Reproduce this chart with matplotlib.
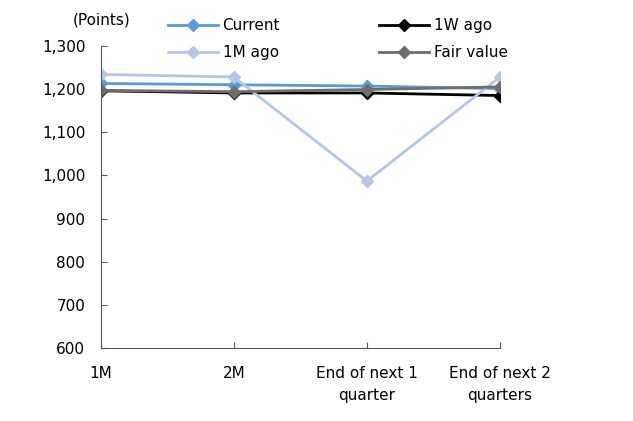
import matplotlib.pyplot as plt

categories = ['1M', '2M', 'End of next 1\nquarter', 'End of next 2\nquarters']
current = [1213, 1210, 1207, 1201]
week_ago = [1196, 1191, 1191, 1185]
month_ago = [1234, 1228, 987, 1228]
fair_value = [1197, 1194, 1199, 1205]

plt.rcParams['font.family'] = 'DejaVu Sans'

fig = plt.figure(figsize=(6.33, 4.21), dpi=100)
ax = fig.add_axes([0.159, 0.173, 0.631, 0.718])

x = range(len(categories))
l1, = ax.plot(x, current, color='#5b9bd5', marker='D', markersize=6, lw=2, label='Current')
l2, = ax.plot(x, week_ago, color='#000000', marker='D', markersize=6, lw=2, label='1W ago')
l3, = ax.plot(x, month_ago, color='#b4c7e7', marker='D', markersize=6, lw=2, label='1M ago')
l4, = ax.plot(x, fair_value, color='#6e6e6e', marker='D', markersize=6, lw=2, label='Fair value')

ax.set_xlim(0, 3)
ax.set_ylim(600, 1300)
ax.set_xticks(list(x))
ax.set_xticklabels(categories, fontsize=11, linespacing=1.6)
ax.set_yticks(range(600, 1301, 100))
ax.set_yticklabels([f'{v:,}' for v in range(600, 1301, 100)], fontsize=11)
ax.tick_params(direction='in', length=4, color='#595959', width=0.8)
ax.tick_params(axis='x', pad=13)
ax.tick_params(axis='y', pad=11)
for s in ['top', 'right']:
    ax.spines[s].set_visible(False)
for s in ['left', 'bottom']:
    ax.spines[s].set_color('#595959')
    ax.spines[s].set_linewidth(0.8)

fig.text(0.115, 0.953, '(Points)', fontsize=11, va='center')
fig.legend([l1, l3, l2, l4], ['Current', '1M ago', '1W ago', 'Fair value'],
           ncol=2, loc='center left', bbox_to_anchor=(0.243, 0.907), frameon=False,
           fontsize=11, handlelength=3.3, columnspacing=6.45, labelspacing=0.8,
           handletextpad=0.3)

fig.savefig('out.png', dpi=100)
